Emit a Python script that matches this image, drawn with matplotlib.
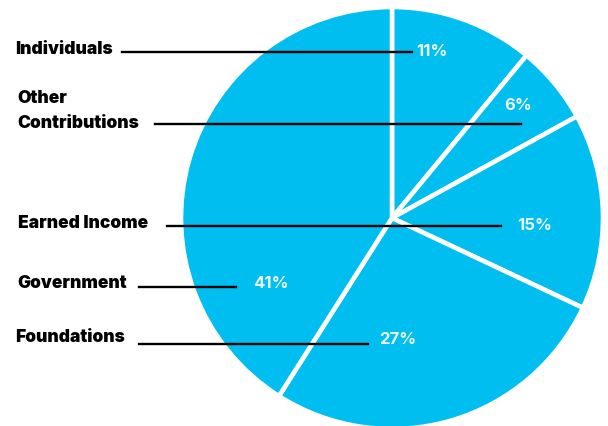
import matplotlib.pyplot as plt

# Доли источников дохода (по часовой стрелке от 12 часов)
categories = ['Individuals', 'Other\nContributions', 'Earned Income', 'Foundations', 'Government']
shares = [11, 6, 15, 27, 41]
pct_labels = ['11%', '6%', '15%', '27%', '41%']

plt.rcParams['font.family'] = ['Inter', 'DejaVu Sans']

fig = plt.figure(figsize=(6.08, 4.26), dpi=100)
ax = fig.add_axes([0, 0, 1, 1])

cx, cy, r = 392, 426 - 218, 211
ax.pie(shares, center=(cx, cy), radius=r, startangle=90, counterclock=False,
       colors=['#00BEF0'] * len(shares),
       wedgeprops=dict(edgecolor='white', linewidth=3.3))
ax.set_xlim(0, 608)
ax.set_ylim(0, 426)
ax.set_aspect('equal')
ax.axis('off')

# положение подписей и линий-выносок (пиксели от верхнего края)
label_pos = {
    'Individuals': (15, 50, 122, 412, 52, 432, 52),
    'Other\nContributions': (17, 111, 155, 521, 124, 518, 105),
    'Earned Income': (18, 223, 167, 501, 226, 535, 225),
    'Foundations': (15, 338, 139, 368, 344, 398, 340),
    'Government': (17, 283, 139, 236, 287, 271, 283),
}

for cat, pct in zip(categories, pct_labels):
    lx, ly, x0, x1, yl, px, py = label_pos[cat]
    ax.text(lx, 426 - ly, cat, ha='left', va='center', fontsize=12.5,
            fontweight='black', color='black', linespacing=1.6)
    ax.plot([x0, x1], [426 - yl, 426 - yl], color='black', lw=1.7)
    ax.text(px, 426 - py, pct, ha='center', va='center', fontsize=12,
            fontweight='bold', color='#EAF6FB')

plt.savefig('out.png', dpi=100)
